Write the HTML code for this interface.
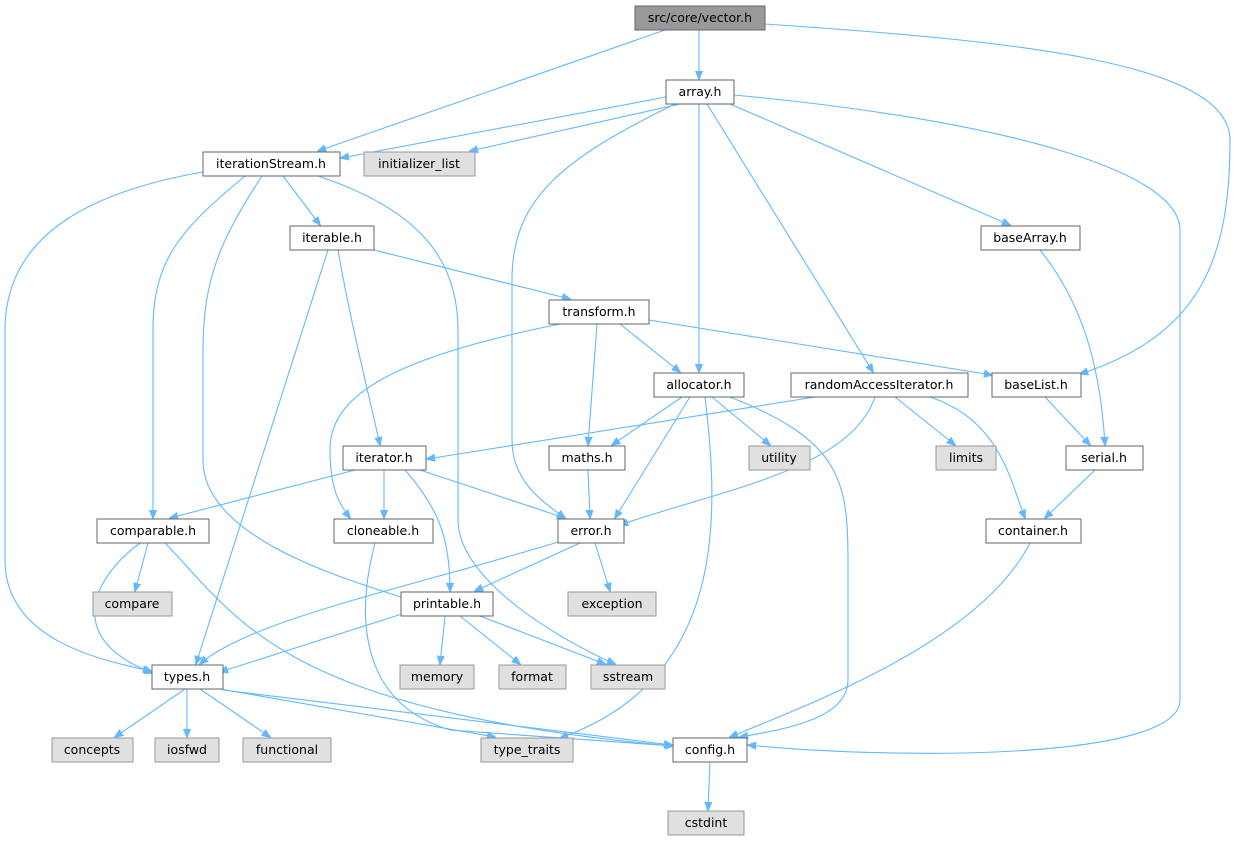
<!DOCTYPE html>
<html><head><meta charset="utf-8"><style>
html,body{margin:0;padding:0;background:#fff;}
svg{display:block;}
text{font-family:"DejaVu Sans","Liberation Sans",sans-serif;font-size:12.5px;fill:#000;text-anchor:middle;}
.e{fill:none;stroke:#63b8ff;stroke-width:1.1;marker-end:url(#a);}
</style></head><body>
<svg width="1236" height="843" viewBox="0 0 1236 843" xmlns="http://www.w3.org/2000/svg">
<defs><marker id="a" viewBox="0 0 10 10" refX="9" refY="5" markerWidth="9" markerHeight="9" markerUnits="userSpaceOnUse" orient="auto"><path d="M0,1 L10,5 L0,9 z" fill="#63b8ff" stroke="#63b8ff"/></marker></defs>
<g>
<path class="e" d="M699,30 L699,79"/>
<path class="e" d="M665,30 L318,151"/>
<path class="e" d="M765,24 C1000,40 1230,60 1230,140 C1230,260 1200,335 1080,374"/>
<path class="e" d="M666,97 L341,158"/>
<path class="e" d="M680,104 L470,151"/>
<path class="e" d="M675,104 C560,160 512,200 512,280 L512,440 C512,480 540,500 565,518"/>
<path class="e" d="M699,104 L699,372"/>
<path class="e" d="M707,104 L873,372"/>
<path class="e" d="M730,104 L1010,225"/>
<path class="e" d="M734,95 C1000,120 1180,170 1180,230 L1180,700 C1180,760 900,760 748,745"/>
<path class="e" d="M203,172 C100,190 5,230 5,330 L5,560 C5,640 100,660 151,671"/>
<path class="e" d="M245,176 C180,230 153,260 153,330 L153,518"/>
<path class="e" d="M262,176 C220,240 203,280 203,350 L203,460 C203,540 350,580 410,600"/>
<path class="e" d="M283,176 L320,225"/>
<path class="e" d="M318,176 C420,210 458,260 458,330 L458,520 C458,580 560,640 615,664"/>
<path class="e" d="M328,250 L196,664"/>
<path class="e" d="M338,250 C350,320 370,400 380,445"/>
<path class="e" d="M374,250 L570,299"/>
<path class="e" d="M560,324 C380,360 330,400 330,450 C330,490 340,505 350,518"/>
<path class="e" d="M597,324 L588,445"/>
<path class="e" d="M620,324 L680,372"/>
<path class="e" d="M649,320 L992,375"/>
<path class="e" d="M682,397 L612,445"/>
<path class="e" d="M690,397 L615,518"/>
<path class="e" d="M712,397 L770,445"/>
<path class="e" d="M705,397 C720,520 725,680 560,738"/>
<path class="e" d="M730,397 C840,440 848,480 848,560 L848,680 C848,720 780,730 740,737"/>
<path class="e" d="M815,397 L427,459"/>
<path class="e" d="M875,397 C850,470 720,490 620,525"/>
<path class="e" d="M895,397 L955,445"/>
<path class="e" d="M930,397 C1000,420 1010,480 1025,518"/>
<path class="e" d="M1045,397 L1090,445"/>
<path class="e" d="M1040,250 C1080,300 1100,360 1105,445"/>
<path class="e" d="M1095,470 L1045,518"/>
<path class="e" d="M355,470 L170,518"/>
<path class="e" d="M384,470 L384,518"/>
<path class="e" d="M420,470 L565,518"/>
<path class="e" d="M405,470 C440,510 450,540 450,591"/>
<path class="e" d="M588,470 L590,518"/>
<path class="e" d="M148,543 L135,591"/>
<path class="e" d="M140,543 C90,580 65,640 153,673"/>
<path class="e" d="M165,543 C240,620 280,710 673,746"/>
<path class="e" d="M375,543 C360,600 350,700 450,730 L673,746"/>
<path class="e" d="M580,543 L475,591"/>
<path class="e" d="M595,543 L610,591"/>
<path class="e" d="M565,540 C400,590 250,620 200,664"/>
<path class="e" d="M405,613 L220,672"/>
<path class="e" d="M445,616 L440,664"/>
<path class="e" d="M460,616 L520,664"/>
<path class="e" d="M480,616 L605,664"/>
<path class="e" d="M1030,543 C980,640 820,700 730,737"/>
<path class="e" d="M185,689 L115,737"/>
<path class="e" d="M187,689 L187,737"/>
<path class="e" d="M200,689 L270,737"/>
<path class="e" d="M220,689 L495,737"/>
<path class="e" d="M223,690 L672,745"/>
<path class="e" d="M710,762 L708,810"/>
</g>
<g stroke="#666" stroke-width="1">
<rect x="635" y="6" width="130" height="24" fill="#999"/>
<rect x="666" y="80" width="68" height="24" fill="#fff"/>
<rect x="203" y="152" width="137" height="24" fill="#fff"/>
<rect x="364" y="152" width="111" height="24" fill="#e0e0e0" stroke="#999"/>
<rect x="290" y="226" width="84" height="24" fill="#fff"/>
<rect x="981" y="226" width="99" height="24" fill="#fff"/>
<rect x="549" y="300" width="100" height="24" fill="#fff"/>
<rect x="654" y="373" width="90" height="24" fill="#fff"/>
<rect x="791" y="373" width="177" height="24" fill="#fff"/>
<rect x="992" y="373" width="89" height="24" fill="#fff"/>
<rect x="343" y="446" width="83" height="24" fill="#fff"/>
<rect x="549" y="446" width="76" height="24" fill="#fff"/>
<rect x="749" y="446" width="61" height="24" fill="#e0e0e0" stroke="#999"/>
<rect x="936" y="446" width="60" height="24" fill="#e0e0e0" stroke="#999"/>
<rect x="1066" y="446" width="77" height="24" fill="#fff"/>
<rect x="97" y="519" width="112" height="24" fill="#fff"/>
<rect x="334" y="519" width="99" height="24" fill="#fff"/>
<rect x="558" y="519" width="66" height="24" fill="#fff"/>
<rect x="986" y="519" width="95" height="24" fill="#fff"/>
<rect x="93" y="592" width="79" height="24" fill="#e0e0e0" stroke="#999"/>
<rect x="401" y="592" width="92" height="24" fill="#fff"/>
<rect x="568" y="592" width="88" height="24" fill="#e0e0e0" stroke="#999"/>
<rect x="152" y="665" width="71" height="24" fill="#fff"/>
<rect x="400" y="665" width="74" height="24" fill="#e0e0e0" stroke="#999"/>
<rect x="499" y="665" width="67" height="24" fill="#e0e0e0" stroke="#999"/>
<rect x="591" y="665" width="74" height="24" fill="#e0e0e0" stroke="#999"/>
<rect x="52" y="738" width="81" height="24" fill="#e0e0e0" stroke="#999"/>
<rect x="155" y="738" width="64" height="24" fill="#e0e0e0" stroke="#999"/>
<rect x="243" y="738" width="88" height="24" fill="#e0e0e0" stroke="#999"/>
<rect x="481" y="738" width="92" height="24" fill="#e0e0e0" stroke="#999"/>
<rect x="673" y="738" width="74" height="24" fill="#fff"/>
<rect x="668" y="811" width="76" height="24" fill="#e0e0e0" stroke="#999"/>
</g>
<g>
<text x="700" y="22">src/core/vector.h</text>
<text x="700" y="96">array.h</text>
<text x="271" y="168">iterationStream.h</text>
<text x="419" y="168">initializer_list</text>
<text x="332" y="242">iterable.h</text>
<text x="1030" y="242">baseArray.h</text>
<text x="599" y="316">transform.h</text>
<text x="699" y="389">allocator.h</text>
<text x="879" y="389">randomAccessIterator.h</text>
<text x="1036" y="389">baseList.h</text>
<text x="384" y="462">iterator.h</text>
<text x="587" y="462">maths.h</text>
<text x="779" y="462">utility</text>
<text x="966" y="462">limits</text>
<text x="1104" y="462">serial.h</text>
<text x="153" y="535">comparable.h</text>
<text x="383" y="535">cloneable.h</text>
<text x="591" y="535">error.h</text>
<text x="1033" y="535">container.h</text>
<text x="132" y="608">compare</text>
<text x="447" y="608">printable.h</text>
<text x="612" y="608">exception</text>
<text x="187" y="681">types.h</text>
<text x="437" y="681">memory</text>
<text x="532" y="681">format</text>
<text x="628" y="681">sstream</text>
<text x="92" y="754">concepts</text>
<text x="187" y="754">iosfwd</text>
<text x="287" y="754">functional</text>
<text x="527" y="754">type_traits</text>
<text x="710" y="754">config.h</text>
<text x="706" y="827">cstdint</text>
</g>
</svg>
</body></html>
